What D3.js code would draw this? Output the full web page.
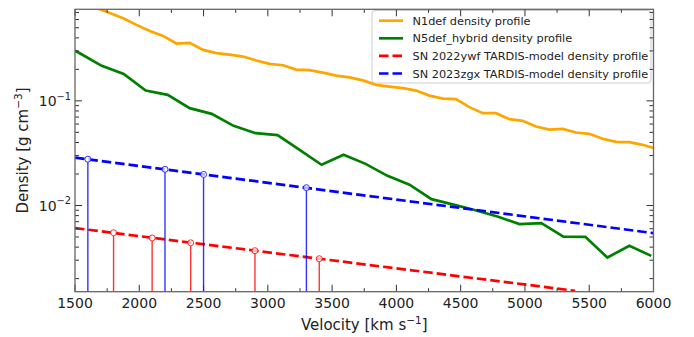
<!DOCTYPE html>
<html>
<head>
<meta charset="utf-8">
<script src="https://d3js.org/d3.v7.min.js"></script>
<style>
  body { margin: 0; background: white; }
  text { font-family: "DejaVu Sans", sans-serif; }
</style>
</head>
<body>
<div id="chart"></div>
<script>
// density profiles (km/s, g cm^-3)
var n1defVel = [1460, 1564, 1667, 1771, 1874, 1978, 2082, 2185, 2289, 2392, 2496, 2600, 2703, 2807, 2910,
  3014, 3118, 3221, 3325, 3428, 3532, 3636, 3739, 3843, 3946, 4050, 4154, 4257, 4361, 4464,
  4568, 4672, 4775, 4879, 4982, 5086, 5190, 5293, 5397, 5500, 5604, 5708, 5811, 5915, 6018]
var n1defDens = [0.943, 0.854, 0.774, 0.692, 0.617, 0.532, 0.466, 0.418, 0.353, 0.358, 0.307, 0.286, 0.277, 0.265, 0.243,
  0.226, 0.219, 0.199, 0.1965, 0.1864, 0.1744, 0.1677, 0.157, 0.1422, 0.137, 0.1322, 0.1254, 0.1123, 0.1052, 0.1038,
  0.0871, 0.0763, 0.0763, 0.0669, 0.0644, 0.0568, 0.0532, 0.054, 0.0498, 0.0484, 0.0434, 0.0406, 0.0403, 0.038, 0.0349]

var n5defVel = [1366, 1537, 1708, 1879, 2050, 2221, 2392, 2563, 2734, 2905, 3076, 3247, 3418, 3589,
  3760, 3931, 4102, 4273, 4444, 4615, 4786, 4957, 5128, 5299, 5470, 5641, 5812, 5983]
var n5defDens = [0.366, 0.285, 0.216, 0.181, 0.1254, 0.1141, 0.0852, 0.0751, 0.0577, 0.0491, 0.047, 0.034, 0.0245, 0.0305,
  0.025, 0.0192, 0.0158, 0.0115, 0.0102, 0.009, 0.00785, 0.00664, 0.00679, 0.00505, 0.00502, 0.00318, 0.00412, 0.0033]

// TARDIS model lines (straight in log space)
var ywfVel = [1500, 5390]
var ywfDens = [0.00608, 0.00153]
var zgxVel = [1500, 6000]
var zgxDens = [0.0287, 0.00544]

// shell markers
var ywfShellVel = [1800, 2100, 2400, 2900, 3400]
var ywfShellDens = [0.0055, 0.0049, 0.0044, 0.0037, 0.0031]
var zgxShellVel = [1600, 2200, 2500, 3300]
var zgxShellDens = [0.0277, 0.0222, 0.0198, 0.0148]

var xTicks = [1500, 2000, 2500, 3000, 3500, 4000, 4500, 5000, 5500, 6000]
var yTicks = [0.01, 0.1]
var yTickExp = ["\u22122", "\u22121"]

var legendLabels = ["N1def density profile", "N5def_hybrid density profile",
  "SN 2022ywf TARDIS-model density profile", "SN 2023zgx TARDIS-model density profile"]

var width = 694, height = 337
// plot box (note: "top" is taken by window.top)
var pLeft = 75, pRight = 653.5, pTop = 9.3, pBottom = 291.7

var svg = d3.select("#chart").append("svg")
  .attr("width", width).attr("height", height)

var x = d3.scaleLinear().domain([1500, 6000]).range([pLeft, pRight])
var y = d3.scaleLog().domain([0.0015, 0.75]).range([pBottom, pTop])

svg.append("clipPath").attr("id", "clip")
  .append("rect").attr("x", pLeft).attr("y", pTop).attr("width", pRight - pLeft).attr("height", pBottom - pTop)

var plot = svg.append("g").attr("clip-path", "url(#clip)")

var line = d3.line().x(function(d) { return x(d[0]) }).y(function(d) { return y(d[1]) })
function pairs(a, b) { return a.map(function(v, i) { return [v, b[i]] }) }

var series = [
  {vel: n1defVel, dens: n1defDens, color: "orange", dash: null},
  {vel: n5defVel, dens: n5defDens, color: "green", dash: null},
  {vel: ywfVel, dens: ywfDens, color: "red", dash: "9.5,4"},
  {vel: zgxVel, dens: zgxDens, color: "blue", dash: "9.5,4"}
]

series.forEach(function(s) {
  plot.append("path")
    .attr("d", line(pairs(s.vel, s.dens)))
    .attr("fill", "none")
    .attr("stroke", s.color)
    .attr("stroke-width", 2.7)
    .attr("stroke-dasharray", s.dash)
})

// stems + open circles for the shells
function shells(vel, dens, color) {
  var data = pairs(vel, dens)
  plot.selectAll(null).data(data).enter().append("line")
    .attr("x1", function(d) { return x(d[0]) }).attr("x2", function(d) { return x(d[0]) })
    .attr("y1", pBottom).attr("y2", function(d) { return y(d[1]) + 3 })
    .attr("stroke", color).attr("stroke-opacity", 0.8).attr("stroke-width", 1.4)
  plot.selectAll(null).data(data).enter().append("circle")
    .attr("cx", function(d) { return x(d[0]) }).attr("cy", function(d) { return y(d[1]) })
    .attr("r", 3).attr("fill", "white").attr("fill-opacity", 0.7)
    .attr("stroke", color).attr("stroke-opacity", 0.8).attr("stroke-width", 1)
}
shells(ywfShellVel, ywfShellDens, "red")
shells(zgxShellVel, zgxShellDens, "blue")

// legend
var lg = svg.append("g")
lg.append("rect").attr("x", 372).attr("y", 10.5).attr("width", 279).attr("height", 72.5)
  .attr("rx", 3).attr("fill", "white").attr("fill-opacity", 0.8).attr("stroke", "#cccccc")
series.forEach(function(s, i) {
  var ly = 20.7 + i * 17.6
  lg.append("line").attr("x1", 379).attr("x2", 403).attr("y1", ly).attr("y2", ly)
    .attr("stroke", s.color).attr("stroke-width", 2.7).attr("stroke-dasharray", s.dash)
  lg.append("text").attr("x", 412.5).attr("y", ly + 4).attr("font-size", 11.3)
    .attr("fill", "#222").text(legendLabels[i])
})

// ticks, inward on all four sides
var tickColor = "#333"
var xMinor = d3.range(1750, 6000, 500)
xTicks.forEach(function(t) {
  svg.append("line").attr("x1", x(t)).attr("x2", x(t)).attr("y1", pBottom).attr("y2", pBottom - 7).attr("stroke", tickColor)
  svg.append("line").attr("x1", x(t)).attr("x2", x(t)).attr("y1", pTop).attr("y2", pTop + 7).attr("stroke", tickColor)
  svg.append("text").attr("x", x(t)).attr("y", 307.5).attr("text-anchor", "middle")
    .attr("font-size", 14).attr("fill", "#222").text(t)
})
xMinor.forEach(function(t) {
  svg.append("line").attr("x1", x(t)).attr("x2", x(t)).attr("y1", pBottom).attr("y2", pBottom - 3.5).attr("stroke", tickColor)
  svg.append("line").attr("x1", x(t)).attr("x2", x(t)).attr("y1", pTop).attr("y2", pTop + 3.5).attr("stroke", tickColor)
})

var yMinor = []
;[0.001, 0.01, 0.1].forEach(function(dec) {
  for (var m = 2; m < 10; m++) {
    var v = dec * m
    if (v > 0.0015 && v < 0.75) yMinor.push(v)
  }
})
yMinor.forEach(function(t) {
  svg.append("line").attr("x1", pLeft).attr("x2", pLeft + 4).attr("y1", y(t)).attr("y2", y(t)).attr("stroke", tickColor)
  svg.append("line").attr("x1", pRight).attr("x2", pRight - 4).attr("y1", y(t)).attr("y2", y(t)).attr("stroke", tickColor)
})
yTicks.forEach(function(t, i) {
  svg.append("line").attr("x1", pLeft).attr("x2", pLeft + 7).attr("y1", y(t)).attr("y2", y(t)).attr("stroke", tickColor)
  svg.append("line").attr("x1", pRight).attr("x2", pRight - 7).attr("y1", y(t)).attr("y2", y(t)).attr("stroke", tickColor)
  var lab = svg.append("text").attr("x", 71).attr("y", y(t) + 5.5).attr("text-anchor", "end")
    .attr("font-size", 14).attr("fill", "#222")
  lab.append("tspan").text("10")
  lab.append("tspan").attr("dy", -6.5).attr("font-size", 9.8).text(yTickExp[i])
})

// frame
svg.append("rect").attr("x", pLeft).attr("y", pTop).attr("width", pRight - pLeft).attr("height", pBottom - pTop)
  .attr("fill", "none").attr("stroke", "#666").attr("stroke-width", 1.3)

// axis labels
var xl = svg.append("text").attr("x", (pLeft + pRight) / 2).attr("y", 329.5).attr("text-anchor", "middle")
  .attr("font-size", 15).attr("fill", "#222")
xl.append("tspan").text("Velocity [km s")
xl.append("tspan").attr("dy", -6).attr("font-size", 10.5).text("\u22121")
xl.append("tspan").attr("dy", 6).text("]")

var yl = svg.append("text").attr("transform", "translate(28," + (pTop + pBottom) / 2 + ") rotate(-90)")
  .attr("text-anchor", "middle").attr("font-size", 15).attr("fill", "#222")
yl.append("tspan").text("Density [g cm")
yl.append("tspan").attr("dy", -6).attr("font-size", 10.5).text("\u22123")
yl.append("tspan").attr("dy", 6).text("]")
</script>
</body>
</html>
